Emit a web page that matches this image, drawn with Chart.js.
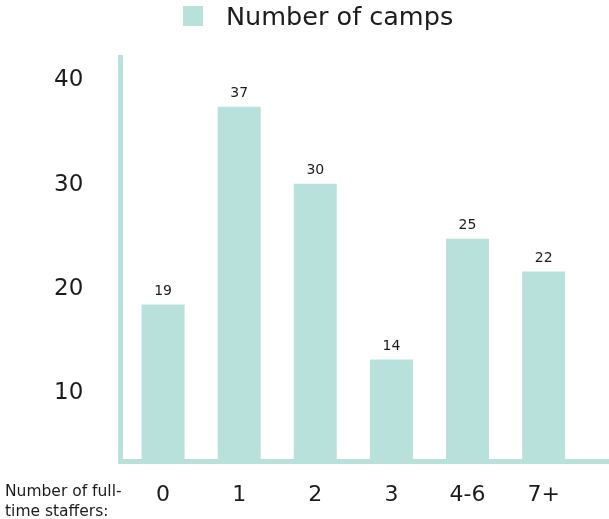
<!DOCTYPE html>
<html>
<head>
<meta charset="utf-8">
<script src="https://cdn.jsdelivr.net/npm/chart.js@4/dist/chart.umd.min.js"></script>
<style>
html,body{margin:0;padding:0;background:#ffffff;}
#wrap{width:609px;height:519px;position:relative;}
</style>
</head>
<body>
<div id="wrap"><canvas id="c" width="609" height="519"></canvas></div>
<script>
// ---- data ----
const categories = ['0', '1', '2', '3', '4-6', '7+'];
const camps = [19, 37, 30, 14, 25, 22];
const tickValues = [10, 20, 30, 40];
const seriesName = 'Number of camps';
const axisCaption = ['Number of full-', 'time staffers:'];

// ---- style ----
const FONT = '"DejaVu Sans", sans-serif';
const BAR = '#b9e1dc';
const TEXT = '#1c1c1c';

const deco = {
  id: 'deco',
  beforeDatasetsDraw(chart) {
    const { ctx, chartArea: a, width } = chart;
    ctx.save();
    ctx.fillStyle = BAR;
    ctx.fillRect(a.left - 7, a.top, 5, a.bottom + 5 - a.top);
    ctx.fillRect(a.left - 7, a.bottom, width - (a.left - 7), 5);
    ctx.restore();
  },
  afterDatasetsDraw(chart) {
    const { ctx } = chart;
    const meta = chart.getDatasetMeta(0);
    ctx.save();
    ctx.fillStyle = TEXT;
    ctx.font = '14px ' + FONT;
    ctx.textAlign = 'center';
    ctx.textBaseline = 'alphabetic';
    meta.data.forEach((el, i) => {
      ctx.fillText(String(camps[i]), el.x, el.y - 10);
    });
    // legend
    ctx.fillStyle = BAR;
    ctx.fillRect(183, 6, 20, 20);
    ctx.fillStyle = TEXT;
    ctx.textAlign = 'left';
    ctx.font = '25.5px ' + FONT;
    ctx.fillText(seriesName, 226, 25);
    // axis caption
    ctx.font = '15.5px ' + FONT;
    ctx.fillText(axisCaption[0], 5, 496);
    ctx.fillText(axisCaption[1], 5, 516);
    ctx.restore();
  }
};

new Chart(document.getElementById('c'), {
  type: 'bar',
  data: {
    labels: categories,
    datasets: [{
      label: seriesName,
      data: camps,
      backgroundColor: BAR,
      borderWidth: 0,
      barPercentage: 0.565,
      categoryPercentage: 1.0,
      yAxisID: 'y'
    }]
  },
  options: {
    responsive: false,
    animation: false,
    layout: { padding: { left: 54, right: 27.3, top: 55, bottom: 0 } },
    plugins: { legend: { display: false }, tooltip: { enabled: false } },
    scales: {
      x: {
        type: 'category',
        offset: true,
        grid: { display: false },
        border: { display: false },
        ticks: { font: { family: FONT, size: 22 }, color: TEXT, padding: 15, maxRotation: 0, autoSkip: false },
        afterFit: s => { s.height = 60; }
      },
      y: { display: false, min: 4.95, max: 41.71 },
      yTicks: {
        position: 'left',
        min: 3.664,
        max: 42.448,
        grid: { display: false },
        border: { display: false },
        ticks: { font: { family: FONT, size: 23 }, color: TEXT, crossAlign: 'far', padding: 0 },
        afterBuildTicks: s => { s.ticks = tickValues.map(v => ({ value: v })); },
        afterFit: s => { s.width = 71; }
      }
    }
  },
  plugins: [deco]
});
</script>
</body>
</html>
